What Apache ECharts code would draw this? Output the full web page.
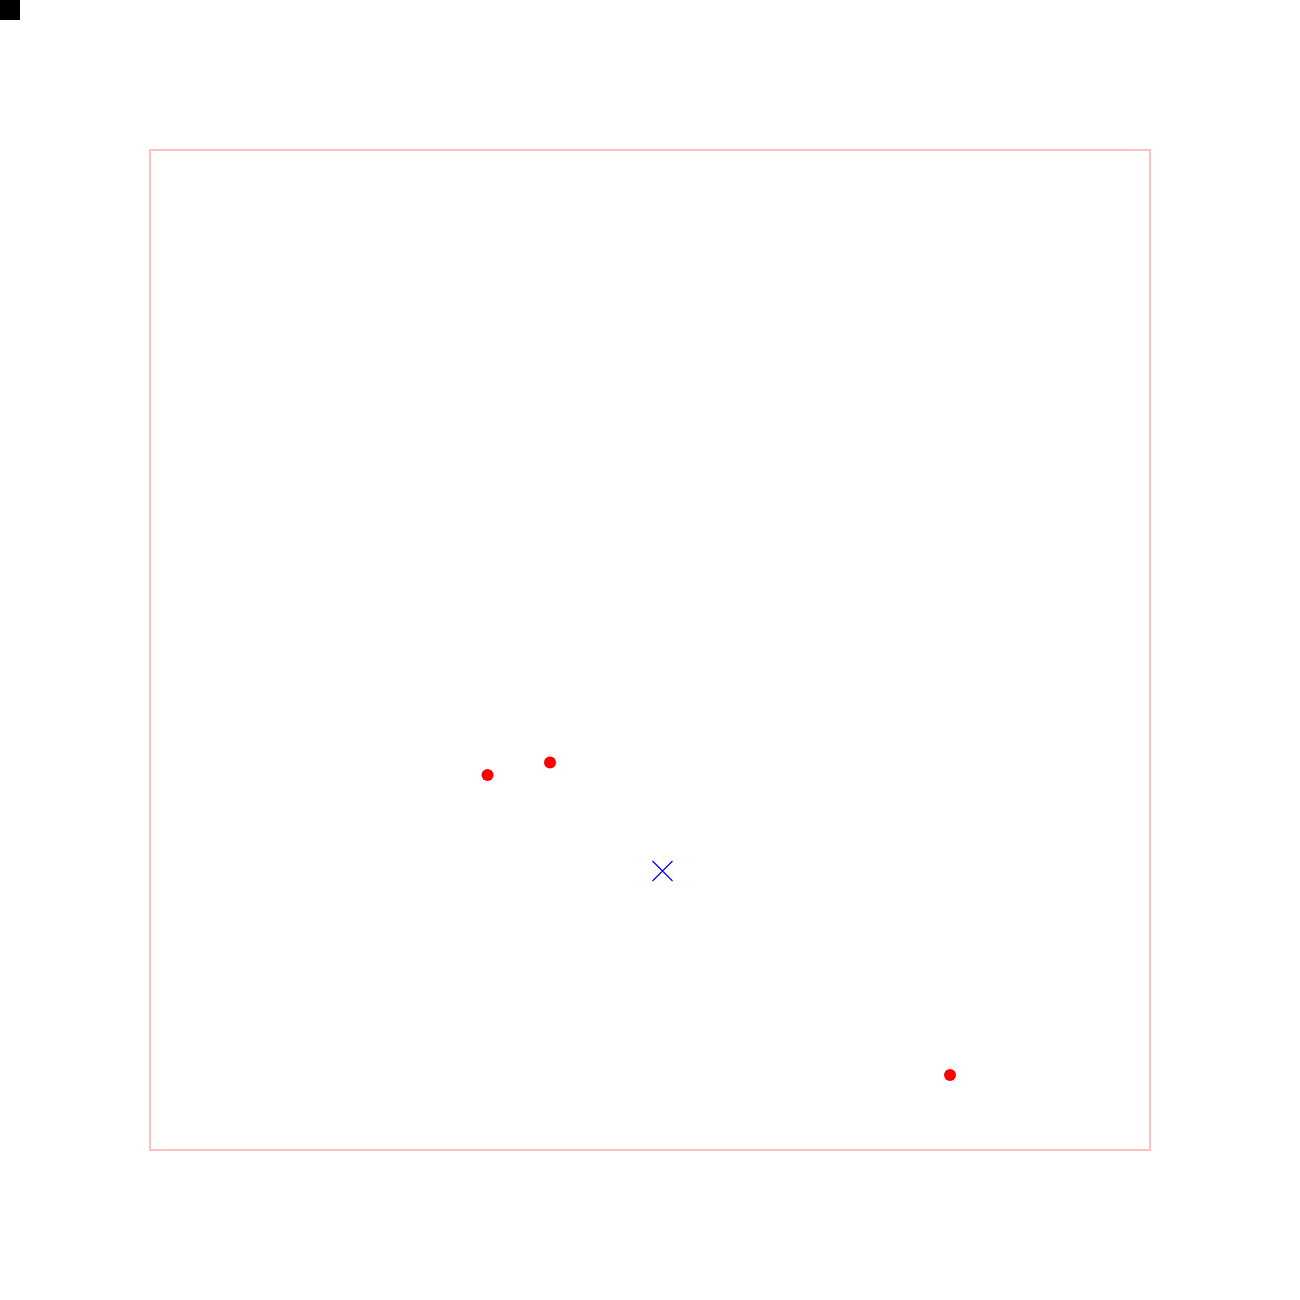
<!DOCTYPE html>
<html>
<head>
<meta charset="utf-8">
<style>html,body{margin:0;padding:0;background:#fff;}#c{width:1300px;height:1300px;}</style>
<script src="https://cdn.jsdelivr.net/npm/echarts@6/dist/echarts.min.js"></script>
</head>
<body>
<div id="c"></div>
<script>
var pointsX = [337.5, 400, 800];
var pointsY = [375, 387.5, 75];
var centroidX = [512.5];
var centroidY = [279];

var chart = echarts.init(document.getElementById('c'), null, {renderer: 'canvas'});
var pts = pointsX.map(function (x, i) { return [x, pointsY[i]]; });
var cen = centroidX.map(function (x, i) { return [x, centroidY[i]]; });

chart.setOption({
  animation: false,
  backgroundColor: '#ffffff',
  graphic: [{
    type: 'rect', left: 0, top: 0,
    shape: {x: 0, y: 0, width: 20, height: 20},
    style: {fill: '#000000'}
  }],
  grid: {
    left: 150, top: 150, width: 1000, height: 1000,
    show: true, borderColor: '#ffbfbf', borderWidth: 2, backgroundColor: 'transparent'
  },
  xAxis: {
    type: 'value', min: 0, max: 1000,
    axisLine: {show: false}, axisTick: {show: false}, axisLabel: {show: false}, splitLine: {show: false}
  },
  yAxis: {
    type: 'value', min: 0, max: 1000,
    axisLine: {show: false}, axisTick: {show: false}, axisLabel: {show: false}, splitLine: {show: false}
  },
  series: [{
    type: 'scatter',
    data: pts,
    symbol: 'circle',
    symbolSize: 12,
    itemStyle: {color: '#ff0000', opacity: 1}
  }, {
    type: 'scatter',
    data: cen,
    symbol: 'path://M0,0L20,20M20,0L0,20',
    symbolSize: 20,
    itemStyle: {color: 'none', borderColor: '#0000ff', borderWidth: 1.2, opacity: 1}
  }]
});
</script>
</body>
</html>
